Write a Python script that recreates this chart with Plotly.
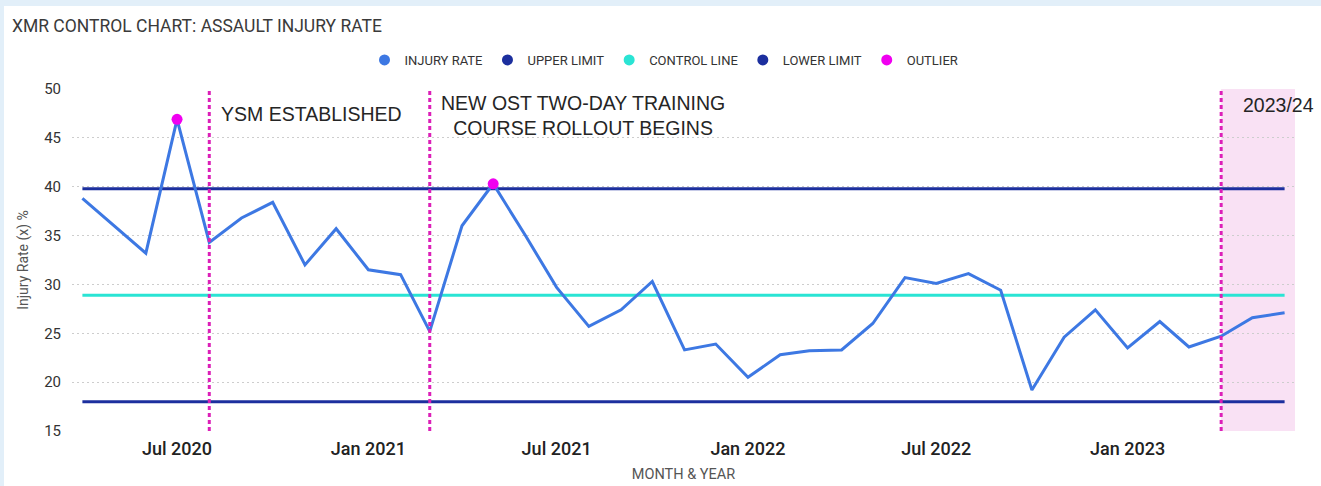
import plotly.graph_objects as go

# ---------------- data ----------------
months = [
    "2020-04-01", "2020-05-01", "2020-06-01", "2020-07-01", "2020-08-01", "2020-09-01",
    "2020-10-01", "2020-11-01", "2020-12-01", "2021-01-01", "2021-02-01", "2021-03-01",
    "2021-04-01", "2021-05-01", "2021-06-01", "2021-07-01", "2021-08-01", "2021-09-01",
    "2021-10-01", "2021-11-01", "2021-12-01", "2022-01-01", "2022-02-01", "2022-03-01",
    "2022-04-01", "2022-05-01", "2022-06-01", "2022-07-01", "2022-08-01", "2022-09-01",
    "2022-10-01", "2022-11-01", "2022-12-01", "2023-01-01", "2023-02-01", "2023-03-01",
    "2023-04-01", "2023-05-01", "2023-06-01",
]
injury_rate = [
    38.8, 36.0, 33.2, 46.9, 34.3, 36.8,
    38.4, 32.0, 35.7, 31.5, 31.0, 25.2,
    36.0, 40.3, 35.0, 29.7, 25.7, 27.4,
    30.3, 23.3, 23.9, 20.5, 22.8, 23.2,
    23.3, 26.0, 30.7, 30.1, 31.1, 29.4,
    19.2, 24.6, 27.4, 23.5, 26.2, 23.6,
    24.7, 26.6, 27.1,
]
upper_limit = 39.8
control_line = 28.9
lower_limit = 18.0

outlier_months = ["2020-07-01", "2021-05-01"]
outlier_values = [46.9, 40.3]

event_months = ["2020-08-01", "2021-03-01", "2023-04-01"]
event_labels = ["YSM ESTABLISHED", "NEW OST TWO-DAY TRAINING<br>COURSE ROLLOUT BEGINS", "2023/24"]
period_start = "2023-04-01"

tick_dates = ["2020-07-01", "2021-01-01", "2021-07-01", "2022-01-01", "2022-07-01", "2023-01-01"]
tick_labels = ["Jul 2020", "Jan 2021", "Jul 2021", "Jan 2022", "Jul 2022", "Jan 2023"]
y_ticks = [15, 20, 25, 30, 35, 40, 45, 50]

x_range = ["2020-03-22", "2023-06-11"]
y_range = [15, 50]

# ---------------- styles ----------------
C_RATE = "#3d78e3"
C_LIMIT = "#1c2f9e"
C_CTRL = "#2ae4d4"
C_OUT = "#f000f0"
C_EVENT = "#dc1fb8"
C_SHADE = "#f9e1f4"
FONT = "Roboto"

n = len(months)
fig = go.Figure()

fig.add_trace(go.Scatter(x=months, y=[upper_limit] * n, mode="lines",
                         line=dict(color=C_LIMIT, width=3), name="UPPER LIMIT", showlegend=False))
fig.add_trace(go.Scatter(x=months, y=[lower_limit] * n, mode="lines",
                         line=dict(color=C_LIMIT, width=3), name="LOWER LIMIT", showlegend=False))
fig.add_trace(go.Scatter(x=months, y=[control_line] * n, mode="lines",
                         line=dict(color=C_CTRL, width=3), name="CONTROL LINE", showlegend=False))
fig.add_trace(go.Scatter(x=months, y=injury_rate, mode="lines",
                         line=dict(color=C_RATE, width=3), name="INJURY RATE", showlegend=False))
fig.add_trace(go.Scatter(x=outlier_months, y=outlier_values, mode="markers",
                         marker=dict(color=C_OUT, size=11), name="OUTLIER", showlegend=False))

# legend entries (dot symbols as in the reference)
for name, col in [("INJURY RATE", C_RATE), ("UPPER LIMIT", C_LIMIT), ("CONTROL LINE", C_CTRL),
                  ("LOWER LIMIT", C_LIMIT), ("OUTLIER", C_OUT)]:
    fig.add_trace(go.Scatter(x=[None], y=[None], mode="markers",
                             marker=dict(color=col, size=11), name=name, showlegend=True))

shapes = []
# white card on light-blue page
shapes.append(dict(type="rect", xref="paper", yref="paper",
                   x0=(4 - 72) / 1223, x1=(1330 - 72) / 1223,
                   y0=(431 - 500) / 342, y1=(431 - 6) / 342,
                   fillcolor="white", line=dict(width=0), layer="below"))
# shaded period
shapes.append(dict(type="rect", xref="x", yref="paper", x0=period_start, x1=x_range[1],
                   y0=0, y1=1, fillcolor=C_SHADE, line=dict(width=0), layer="below"))
for m in event_months:
    shapes.append(dict(type="line", xref="x", yref="paper", x0=m, x1=m, y0=0, y1=1,
                       line=dict(color=C_EVENT, width=3, dash="4px,3px"), layer="above"))

ann_font = dict(family="Liberation Sans, Arial", size=19.5, color="#252525")
annotations = [
    dict(x=event_months[0], xref="x", y=(431 - 114) / 342, yref="paper", text=event_labels[0],
         showarrow=False, xanchor="left", yanchor="middle", xshift=10, font=ann_font),
    dict(x=event_months[1], xref="x", y=(431 - 115) / 342, yref="paper", text=event_labels[1],
         showarrow=False, xanchor="left", yanchor="middle", align="center", xshift=9, font=ann_font),
    dict(x=event_months[2], xref="x", y=(431 - 105) / 342, yref="paper", text=event_labels[2],
         showarrow=False, xanchor="left", yanchor="middle", xshift=20, font=ann_font),
]

fig.update_layout(
    width=1321, height=486,
    margin=dict(l=72, r=26, t=89, b=55, autoexpand=False),
    paper_bgcolor="#e2eff9", plot_bgcolor="white",
    title=dict(text="XMR CONTROL CHART: ASSAULT INJURY RATE", x=12 / 1321, xref="container",
               xanchor="left", y=1 - 26 / 486, yref="container", yanchor="middle",
               font=dict(family=FONT, size=17.5, color="#3a3a3a")),
    legend=dict(orientation="h", x=664 / 1321, xanchor="center", xref="container",
                y=1 - 60 / 486, yref="container", yanchor="middle",
                font=dict(family=FONT, size=13, color="#333333"),
                bgcolor="rgba(0,0,0,0)", itemclick=False),
    shapes=shapes, annotations=annotations,
    xaxis=dict(type="date", range=x_range, tickvals=tick_dates, ticktext=tick_labels,
               showgrid=False, zeroline=False, showline=False,
               ticks="outside", ticklen=1, tickcolor="rgba(0,0,0,0)",
               tickfont=dict(family=FONT, size=18, color="#222222", weight=500),
               title=dict(text="MONTH & YEAR", standoff=11,
                          font=dict(family=FONT, size=14.5, color="#555555"))),
    yaxis=dict(range=y_range, tickvals=y_ticks, showgrid=True, gridcolor="#cdcdcd",
               griddash="2px,3px", gridwidth=1, zeroline=False, showline=False,
               ticks="outside", ticklen=7, tickcolor="rgba(0,0,0,0)",
               tickfont=dict(family=FONT, size=15, color="#333333"),
               title=dict(text="Injury Rate (x) %", standoff=12,
                          font=dict(family=FONT, size=14, color="#555555"))),
    showlegend=True,
)

fig.write_html("out.html", config={"displayModeBar": False},
               post_script="document.body.style.margin='0';document.body.style.overflow='hidden';")
